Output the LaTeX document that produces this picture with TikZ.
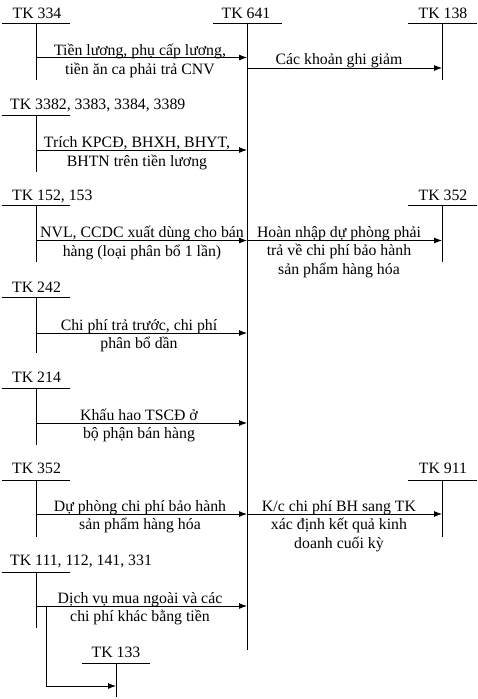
\documentclass[tikz,border=0pt]{standalone}
\usepackage{fontspec}
\setmainfont{Liberation Serif}
\usetikzlibrary{arrows.meta}
\begin{document}
\begin{tikzpicture}[x=1pt,y=-1pt,
  ln/.style={line width=0.9pt},
  arr/.style={line width=0.9pt,-{Latex[length=8pt,width=6pt]}},
  acct/.style={anchor=base,inner sep=0pt,font=\fontsize{15.8}{18.5}\selectfont},
  acctl/.style={anchor=base west,inner sep=0pt,font=\fontsize{15.8}{18.5}\selectfont},
  lbl/.style={anchor=base,inner sep=0pt,align=center,font=\fontsize{15.8}{18.5}\selectfont}]
\useasboundingbox (0,0) rectangle (478,699);
\fill[white] (0,0) rectangle (478,699);

% TK 641 (central)
\node[acct] (n641) at (246,18) {TK 641};
\coordinate (a641l) at (213,23); \coordinate (a641r) at (282,23);
\coordinate (a641t) at (247,23); \coordinate (a641b) at (247,650);
\draw[ln] (a641l) -- (a641r);
\draw[ln] (a641t) -- (a641b);

% TK 334
\node[acct] (n334) at (37,18) {TK 334};
\coordinate (a334l) at (2,23); \coordinate (a334r) at (70,23);
\coordinate (a334t) at (36,23); \coordinate (a334b) at (36,80);
\draw[ln] (a334l) -- (a334r);
\draw[ln] (a334t) -- (a334b);
\coordinate (f334) at (36,57.5); \coordinate (t334) at (247,57.5);
\draw[arr] (f334) -- (t334);
\node[lbl] (l334) at (140,74) {Tiền lương, phụ cấp lương,\\tiền ăn ca phải trả CNV};

% TK 138
\node[acct] (n138) at (443,18) {TK 138};
\coordinate (a138l) at (408,23); \coordinate (a138r) at (477,23);
\coordinate (a138t) at (442,23); \coordinate (a138b) at (442,80);
\draw[ln] (a138l) -- (a138r);
\draw[ln] (a138t) -- (a138b);
\coordinate (f138) at (247,68); \coordinate (t138) at (442,68);
\draw[arr] (f138) -- (t138);
\node[lbl] (l138) at (339,64) {Các khoản ghi giảm};

% TK 3382...
\node[acctl] (n338) at (10,109) {TK 3382, 3383, 3384, 3389};
\coordinate (a338l) at (2,115); \coordinate (a338r) at (70,115);
\coordinate (a338t) at (36,115); \coordinate (a338b) at (36,172);
\draw[ln] (a338l) -- (a338r);
\draw[ln] (a338t) -- (a338b);
\coordinate (f338) at (36,150); \coordinate (t338) at (247,150);
\draw[arr] (f338) -- (t338);
\node[lbl] (l338) at (137,166) {Trích KPCĐ, BHXH, BHYT,\\BHTN trên tiền lương};

% TK 152, 153
\node[acctl] (n152) at (12,200) {TK 152, 153};
\coordinate (a152l) at (2,205); \coordinate (a152r) at (70,205);
\coordinate (a152t) at (36,205); \coordinate (a152b) at (36,262);
\draw[ln] (a152l) -- (a152r);
\draw[ln] (a152t) -- (a152b);
\coordinate (f152) at (36,240.5); \coordinate (t152) at (247,240.5);
\draw[arr] (f152) -- (t152);
\node[lbl] (l152) at (142,256) {NVL, CCDC xuất dùng cho bán\\hàng (loại phân bổ 1 lần)};

% TK 352 (right)
\node[acct] (n352r) at (443,200) {TK 352};
\coordinate (a352rl) at (408,205); \coordinate (a352rr) at (477,205);
\coordinate (a352rt) at (442,205); \coordinate (a352rb) at (442,262);
\draw[ln] (a352rl) -- (a352rr);
\draw[ln] (a352rt) -- (a352rb);
\coordinate (f352r) at (247,240.5); \coordinate (t352r) at (442,240.5);
\draw[arr] (f352r) -- (t352r);
\node[lbl] (l352r) at (339,274) {Hoàn nhập dự phòng phải\\trả về chi phí bảo hành\\sản phẩm hàng hóa};

% TK 242
\node[acctl] (n242) at (12,292) {TK 242};
\coordinate (a242l) at (2,297); \coordinate (a242r) at (70,297);
\coordinate (a242t) at (36,297); \coordinate (a242b) at (36,353);
\draw[ln] (a242l) -- (a242r);
\draw[ln] (a242t) -- (a242b);
\coordinate (f242) at (36,333); \coordinate (t242) at (247,333);
\draw[arr] (f242) -- (t242);
\node[lbl] (l242) at (139,348.5) {Chi phí trả trước, chi phí\\phân bổ dần};

% TK 214
\node[acctl] (n214) at (12,382) {TK 214};
\coordinate (a214l) at (2,388); \coordinate (a214r) at (70,388);
\coordinate (a214t) at (36,388); \coordinate (a214b) at (36,445);
\draw[ln] (a214l) -- (a214r);
\draw[ln] (a214t) -- (a214b);
\coordinate (f214) at (36,423); \coordinate (t214) at (247,423);
\draw[arr] (f214) -- (t214);
\node[lbl] (l214) at (139,438.5) {Khấu hao TSCĐ ở\\bộ phận bán hàng};

% TK 352 (left)
\node[acctl] (n352l) at (12,473) {TK 352};
\coordinate (a352ll) at (2,480); \coordinate (a352lr) at (70,480);
\coordinate (a352lt) at (36,480); \coordinate (a352lb) at (36,537);
\draw[ln] (a352ll) -- (a352lr);
\draw[ln] (a352lt) -- (a352lb);
\coordinate (f352l) at (36,514); \coordinate (t352l) at (247,514);
\draw[arr] (f352l) -- (t352l);
\node[lbl] (l352l) at (140,529.5) {Dự phòng chi phí bảo hành\\sản phẩm hàng hóa};

% TK 911
\node[acct] (n911) at (443,473) {TK 911};
\coordinate (a911l) at (408,480); \coordinate (a911r) at (477,480);
\coordinate (a911t) at (442,480); \coordinate (a911b) at (442,537);
\draw[ln] (a911l) -- (a911r);
\draw[ln] (a911t) -- (a911b);
\coordinate (f911) at (247,514); \coordinate (t911) at (442,514);
\draw[arr] (f911) -- (t911);
\node[lbl] (l911) at (339,548) {K/c chi phí BH sang TK\\xác định kết quả kinh\\doanh cuối kỳ};

% TK 111, 112, 141, 331
\node[acctl] (n111) at (10,565) {TK 111, 112, 141, 331};
\coordinate (a111l) at (2,572); \coordinate (a111r) at (70,572);
\coordinate (a111t) at (36,572); \coordinate (a111b) at (36,628);
\draw[ln] (a111l) -- (a111r);
\draw[ln] (a111t) -- (a111b);
\coordinate (f111) at (36,606); \coordinate (t111) at (247,606);
\draw[arr] (f111) -- (t111);
\node[lbl] (l111) at (140,621.5) {Dịch vụ mua ngoài và các\\chi phí khác bằng tiền};

% TK 133
\node[acct] (n133) at (116,657) {TK 133};
\coordinate (a133l) at (82,663); \coordinate (a133r) at (150,663);
\coordinate (a133t) at (116,663); \coordinate (a133b) at (116,697);
\draw[ln] (a133l) -- (a133r);
\draw[ln] (a133t) -- (a133b);
\coordinate (b133s) at (46,606); \coordinate (b133e) at (116,686);
\draw[arr] (b133s) |- (b133e);
\end{tikzpicture}
\end{document}
